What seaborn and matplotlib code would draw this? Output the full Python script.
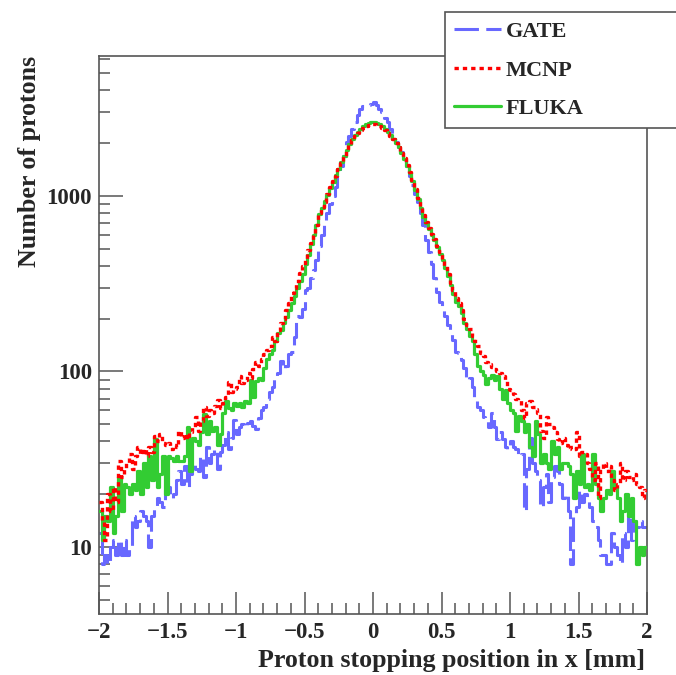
import numpy as np
import pandas as pd
import matplotlib
matplotlib.use("Agg")
import matplotlib.pyplot as plt
import seaborn as sns
from matplotlib.ticker import FixedLocator, NullFormatter, LogLocator

# ---------------- data ----------------
bin_lo, bin_hi, n_bins = -2.0, 2.0, 200
edges = np.linspace(bin_lo, bin_hi, n_bins + 1)
centers = 0.5 * (edges[:-1] + edges[1:])

gate = [
    12, 8, 9, 8, 10, 11, 9, 11, 9, 11,
    9, 10, 15, 13, 14, 16, 15, 14, 10, 15,
    17, 19, 18, 17, 21, 22, 19, 20, 24, 27,
    23, 29, 22, 26, 30, 28, 27, 33, 25, 37,
    30, 34, 36, 28, 35, 38, 45, 36, 42, 53,
    44, 48, 50, 48, 51, 52, 49, 47, 54, 60,
    63, 70, 76, 82, 92, 98, 115, 104, 108, 126,
    130, 158, 206, 205, 228, 290, 300, 340, 380, 430,
    520, 600, 700, 800, 900, 1000, 1120, 1300, 1480, 1700,
    2030, 2200, 2420, 2650, 2900, 3140, 3270, 3280, 3300, 3350,
    3440, 3300, 3140, 3000, 2800, 2650, 2420, 2200, 2030, 1900,
    1780, 1600, 1480, 1300, 1150, 1030, 930, 800, 680, 560,
    480, 410, 340, 283, 250, 226, 206, 185, 167, 152,
    130, 128, 117, 105, 90, 92, 82, 70, 63, 60,
    55, 53, 48, 58, 48, 41, 45, 41, 37, 36,
    40, 37, 36, 33, 34, 16, 28, 42, 30, 27,
    24, 17, 22, 26, 18, 25, 29, 27, 23, 19,
    20, 16, 8, 15, 17, 21, 18, 20, 19, 17,
    14, 13, 11, 9, 9, 8, 8, 12, 10, 9,
    8, 12, 10, 16, 11, 14, 13, 14, 13, 13,
]

mcnp = [
    18, 14, 11, 20, 16, 22, 18, 31, 25, 28,
    30, 34, 28, 33, 37, 34, 36, 33, 37, 35,
    43, 40, 44, 39, 38, 39, 36, 38, 37, 46,
    42, 44, 41, 45, 48, 55, 46, 52, 63, 56,
    60, 58, 64, 69, 62, 66, 72, 87, 76, 80,
    82, 94, 86, 90, 98, 92, 104, 114, 108, 118,
    125, 132, 140, 158, 150, 172, 190, 200, 225, 245,
    280, 300, 330, 365, 400, 440, 490, 540, 600, 680,
    800, 870, 930, 1030, 1120, 1210, 1300, 1430, 1550, 1690,
    1820, 1960, 2080, 2200, 2300, 2380, 2440, 2490, 2540, 2560,
    2570, 2550, 2500, 2440, 2370, 2290, 2200, 2100, 2000, 1900,
    1770, 1640, 1500, 1370, 1230, 1100, 980, 870, 780, 710,
    660, 610, 570, 520, 480, 440, 400, 360, 320, 290,
    262, 245, 225, 200, 185, 175, 160, 150, 140, 128,
    122, 114, 110, 106, 103, 100, 98, 94, 88, 80,
    78, 74, 70, 69, 60, 54, 66, 68, 63, 61,
    58, 46, 42, 55, 50, 48, 45, 41, 39, 42,
    38, 36, 37, 36, 45, 33, 35, 34, 30, 28,
    24, 30, 19, 28, 30, 27, 29, 24, 21, 23,
    30, 24, 27, 25, 24, 26, 23, 22, 19, 21,
]

fluka = [
    16, 11, 15, 14, 22, 12, 15, 25, 16, 23,
    22, 20, 23, 21, 27, 20, 30, 22, 33, 24,
    41, 22, 26, 33, 20, 33, 32, 31, 33, 31,
    31, 33, 48, 27, 42, 40, 38, 45, 57, 44,
    52, 46, 48, 38, 44, 58, 68, 62, 60, 66,
    64, 66, 63, 68, 66, 90, 72, 88, 92, 90,
    105, 118, 125, 132, 150, 165, 172, 190, 205, 225,
    245, 270, 300, 330, 360, 410, 460, 530, 600, 680,
    790, 860, 940, 1020, 1110, 1200, 1310, 1420, 1560, 1700,
    1840, 1980, 2120, 2230, 2320, 2420, 2500, 2560, 2620, 2640,
    2650, 2620, 2560, 2490, 2400, 2320, 2220, 2120, 2010, 1900,
    1760, 1620, 1480, 1350, 1220, 1080, 960, 850, 760, 700,
    650, 600, 560, 510, 470, 430, 390, 350, 310, 275,
    250, 235, 215, 190, 175, 160, 150, 125, 108, 100,
    95, 85, 92, 96, 90, 94, 80, 70, 78, 66,
    60, 58, 46, 56, 52, 45, 50, 37, 33, 52,
    44, 30, 34, 30, 28, 40, 34, 37, 28, 30,
    30, 29, 26, 19, 27, 23, 34, 22, 23, 21,
    34, 23, 19, 16, 19, 21, 20, 27, 22, 19,
    14, 16, 20, 15, 19, 14, 8, 10, 9, 10,
]

series_names = ["GATE", "MCNP", "FLUKA"]
x_ticks = [-2, -1.5, -1, -0.5, 0, 0.5, 1, 1.5, 2]
x_tick_labels = ["\u22122", "\u22121.5", "\u22121", "\u22120.5", "0", "0.5", "1", "1.5", "2"]
y_ticks = [10, 100, 1000]
y_tick_labels = ["10", "100", "1000"]
x_label = "Proton stopping position in x [mm]"
y_label = "Number of protons"

# ---------------- styling ----------------
sns.set_style("ticks")
plt.rcParams["font.family"] = ["Liberation Serif", "DejaVu Serif"]
plt.rcParams["font.weight"] = "bold"

W, H = 676, 675
fig = plt.figure(figsize=(W / 100, H / 100), dpi=100)
ax_l, ax_r, ax_t, ax_b = 99, 647, 56, 614
ax = fig.add_axes([ax_l / W, 1 - ax_b / H, (ax_r - ax_l) / W, (ax_b - ax_t) / H])

styles = {
    "GATE": dict(color="#6868ff", linestyle=(0, (8, 2.4)), linewidth=2.2, zorder=2),
    "MCNP": dict(color="#ff0000", linestyle=(0, (1.3, 1.2)), linewidth=2.4, zorder=4),
    "FLUKA": dict(color="#33cc33", linestyle="-", linewidth=2.3, zorder=3),
}
data = {"GATE": gate, "MCNP": mcnp, "FLUKA": fluka}
bin_list = [float(e) for e in edges]

for name in series_names:
    df = pd.DataFrame({"x": centers, "w": data[name]})
    sns.histplot(data=df, x="x", weights="w", bins=bin_list, element="step",
                 fill=False, ax=ax, label=name, **styles[name])

ax.set_yscale("log")
ax.set_xlim(-2, 2)
ax.set_ylim(4.15, 6280)

ax.xaxis.set_major_locator(FixedLocator(x_ticks))
ax.set_xticklabels(x_tick_labels)
ax.xaxis.set_minor_locator(FixedLocator(np.round(np.arange(-2, 2.001, 0.1), 2)))
ax.yaxis.set_major_locator(FixedLocator(y_ticks))
ax.set_yticklabels(y_tick_labels)
ax.yaxis.set_minor_locator(LogLocator(base=10, subs=np.arange(2, 10)))
ax.yaxis.set_minor_formatter(NullFormatter())

ax.tick_params(axis="both", which="both", direction="in", color="#555555",
               top=False, right=False, width=1.1)
ax.tick_params(axis="x", which="major", length=16, labelsize=16.5, pad=6)
ax.tick_params(axis="x", which="minor", length=8)
ax.tick_params(axis="y", which="major", length=17, labelsize=16.5, pad=5)
ax.tick_params(axis="y", which="minor", length=8)
for lab in ax.get_xticklabels() + ax.get_yticklabels():
    lab.set_fontweight("bold")

for sp in ax.spines.values():
    sp.set_color("#555555")
    sp.set_linewidth(1.2)
    sp.set_visible(True)

ax.set_xlabel("")
ax.set_ylabel("")
fig.text(645 / W, 1 - 661 / H, x_label, ha="right", va="center",
         fontsize=18.7, fontweight="bold")
fig.text(30 / W, 1 - ax_t / H, y_label, ha="center", va="top", rotation=90,
         fontsize=18.7, fontweight="bold")

handles, labels = ax.get_legend_handles_labels()
order = [labels.index(n) for n in series_names]
leg = fig.legend([handles[i] for i in order], [labels[i] for i in order],
                 loc="upper left", bbox_to_anchor=(445 / W, 1 - 13 / H, 0.5, 0.001),
                 mode="expand", frameon=True, fancybox=False, framealpha=1.0,
                 prop={"weight": "bold", "size": 16, "family": "Liberation Serif"},
                 handlelength=2.1, handletextpad=0.22, labelspacing=0.8,
                 borderpad=0.42, borderaxespad=0)
leg.get_frame().set_edgecolor("#555555")
leg.get_frame().set_facecolor("white")
leg.get_frame().set_linewidth(1.2)

fig.savefig("out.png", dpi=100)
